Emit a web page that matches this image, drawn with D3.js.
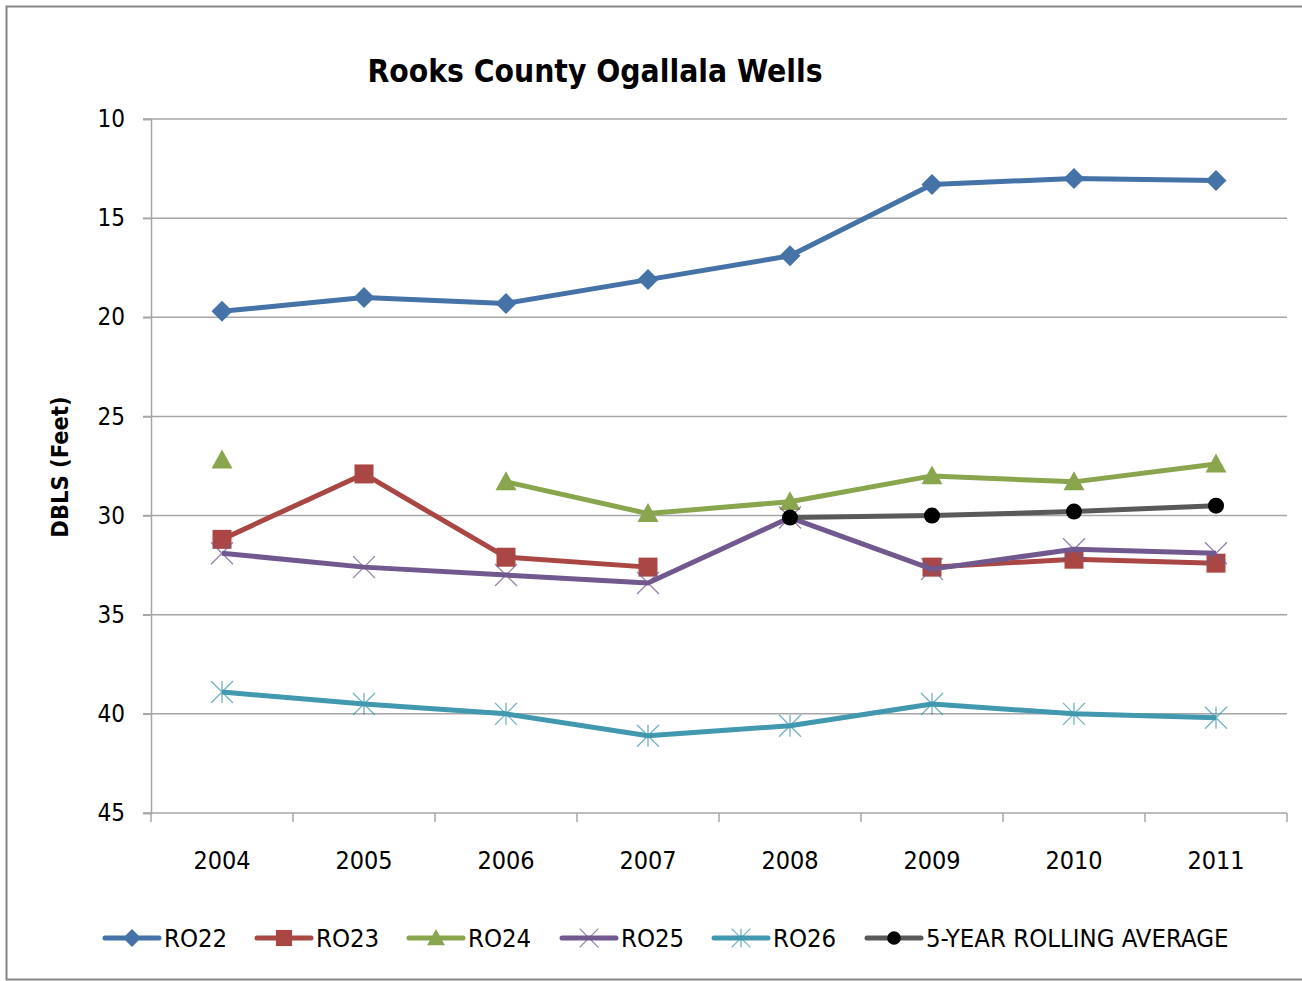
<!DOCTYPE html>
<html>
<head>
<meta charset="utf-8">
<script src="https://cdn.jsdelivr.net/npm/d3@7"></script>
<style>
  body { margin: 0; background: #fff; }
  svg text { font-family: "Liberation Sans Narrow", "DejaVu Sans Condensed", "Open Sans", sans-serif; fill: #000; }
</style>
</head>
<body>
<div id="chart"></div>
<script>
// values (depth below land surface, feet)
const years = ["2004", "2005", "2006", "2007", "2008", "2009", "2010", "2011"];
const ro22 = [19.7, 19.0, 19.3, 18.1, 16.9, 13.3, 13.0, 13.1];
const ro23 = [31.2, 27.9, 32.1, 32.6, null, 32.6, 32.2, 32.4];
const ro24 = [27.2, null, 28.3, 29.9, 29.3, 28.0, 28.3, 27.4];
const ro25 = [31.9, 32.6, 33.0, 33.4, 30.1, 32.7, 31.7, 31.9];
const ro26 = [38.9, 39.5, 40.0, 41.1, 40.6, 39.5, 40.0, 40.2];
const rollingAvg = [null, null, null, null, 30.1, 30.0, 29.8, 29.5];
const yTicks = [10, 15, 20, 25, 30, 35, 40, 45];

const series = [
  {name: "RO22", values: ro22, color: "#4572A7", marker: "diamond"},
  {name: "RO23", values: ro23, color: "#AA4643", marker: "square"},
  {name: "RO24", values: ro24, color: "#89A54E", marker: "triangle"},
  {name: "RO25", values: ro25, color: "#71588F", marker: "x"},
  {name: "RO26", values: ro26, color: "#4198AF", marker: "star"},
  {name: "5-YEAR ROLLING AVERAGE", values: rollingAvg, color: "#595959", marker: "circle"}
];

const width = 1302, height = 981;
const margin = {top: 119, right: 15, bottom: 168, left: 151};

const svg = d3.select("#chart").append("svg")
  .attr("width", width)
  .attr("height", height);

// outer frame
svg.append("rect")
  .attr("x", 6.5).attr("y", 6.5)
  .attr("width", width + 10).attr("height", height - 8)
  .attr("fill", "#fff").attr("stroke", "#868686").attr("stroke-width", 2);

const x = d3.scaleBand().domain(years).range([margin.left, width - margin.right]);
const y = d3.scaleLinear().domain([10, 45]).range([margin.top, height - margin.bottom]);

// gridlines
svg.append("g").attr("class", "grid")
  .selectAll("line").data(yTicks).join("line")
    .attr("x1", margin.left - 8).attr("x2", width - margin.right)
    .attr("y1", d => y(d)).attr("y2", d => y(d))
    .attr("stroke", "#a6a6a6").attr("stroke-width", 1.5);

// y axis
const yAxis = d3.axisLeft(y).tickValues(yTicks).tickSize(8).tickPadding(18);
const gy = svg.append("g").attr("class", "y axis")
  .attr("transform", "translate(" + margin.left + ",0)")
  .call(yAxis);
gy.select(".domain").attr("stroke", "#a6a6a6").attr("stroke-width", 1.5);
gy.selectAll(".tick line").attr("stroke", "#a6a6a6").attr("stroke-width", 1.5);
gy.selectAll("text").attr("font-size", 24).attr("fill", "#000");

// x axis (ticks between categories)
const xAxis = d3.axisBottom(x).tickSize(0).tickPadding(38);
const gx = svg.append("g").attr("class", "x axis")
  .attr("transform", "translate(0," + y(45) + ")")
  .call(xAxis);
gx.select(".domain").remove();
gx.selectAll("text").attr("font-size", 25).attr("fill", "#000");
const bounds = years.map(d => x(d)).concat([x(years[years.length - 1]) + x.bandwidth()]);
gx.selectAll(".sep").data(bounds).join("line")
  .attr("class", "sep")
  .attr("x1", d => d).attr("x2", d => d)
  .attr("y1", 0).attr("y2", 9)
  .attr("stroke", "#a6a6a6").attr("stroke-width", 1.5);

function markerPath(type, s) {
  const h = s / 2;
  switch (type) {
    case "diamond": return `M0,${-h}L${h},0L0,${h}L${-h},0Z`;
    case "square": return `M${-h},${-h}H${h}V${h}H${-h}Z`;
    case "triangle": return `M0,${-h}L${h},${h * 0.8}L${-h},${h * 0.8}Z`;
    case "circle": return d3.symbol(d3.symbolCircle, Math.PI * h * h)();
    case "x": return `M${-h},${-h}L${h},${h}M${-h},${h}L${h},${-h}`;
    case "star": return `M${-h},${-h}L${h},${h}M${-h},${h}L${h},${-h}M0,${-h}L0,${h}`;
  }
}

function drawMarker(g, type, color, scale) {
  const sizes = {diamond: 21, square: 19, triangle: 21, circle: 16, x: 22, star: 22};
  const open = (type === "x" || type === "star");
  g.append("path")
    .attr("d", markerPath(type, sizes[type] * (scale || 1)))
    .attr("fill", open ? "none" : (type === "circle" ? "#000" : color))
    .attr("stroke", open ? color : "none")
    .attr("stroke-width", open ? 1.3 : 0)
    .attr("opacity", open ? 0.75 : 1);
}

const line = d3.line()
  .defined(d => d != null)
  .x((d, i) => x(years[i]) + x.bandwidth() / 2)
  .y(d => y(d));

// draw in order so later series sit on top
const plot = svg.append("g").attr("class", "plot");
series.forEach(s => {
  const g = plot.append("g").attr("class", "series");
  g.append("path")
    .datum(s.values)
    .attr("d", line)
    .attr("fill", "none")
    .attr("stroke", s.color)
    .attr("stroke-width", 5)
    .attr("stroke-linejoin", "round");
  s.values.forEach((v, i) => {
    if (v == null) return;
    const m = g.append("g")
      .attr("transform", "translate(" + (x(years[i]) + x.bandwidth() / 2) + "," + y(v) + ")");
    drawMarker(m, s.marker, s.color);
  });
});

// title
svg.append("text")
  .attr("x", 595).attr("y", 82)
  .attr("text-anchor", "middle")
  .attr("font-size", 31.5).attr("font-weight", "bold")
  .text("Rooks County Ogallala Wells");

// y label
svg.append("text")
  .attr("transform", "translate(68," + 467 + ") rotate(-90)")
  .attr("text-anchor", "middle")
  .attr("font-size", 23.5).attr("font-weight", "bold")
  .text("DBLS (Feet)");

// legend
const legendX = [103, 255, 407, 560, 712, 865];
const legend = svg.append("g").attr("class", "legend");
series.forEach((s, i) => {
  const g = legend.append("g").attr("transform", "translate(" + legendX[i] + ",938)");
  g.append("line")
    .attr("x1", 2).attr("x2", 56)
    .attr("stroke", s.color).attr("stroke-width", 5).attr("stroke-linecap", "round");
  const m = g.append("g").attr("transform", "translate(29,0)");
  drawMarker(m, s.marker, s.color, 0.85);
  g.append("text")
    .attr("x", 61).attr("y", 9)
    .attr("font-size", 25.5)
    .text(s.name);
});
</script>
</body>
</html>
